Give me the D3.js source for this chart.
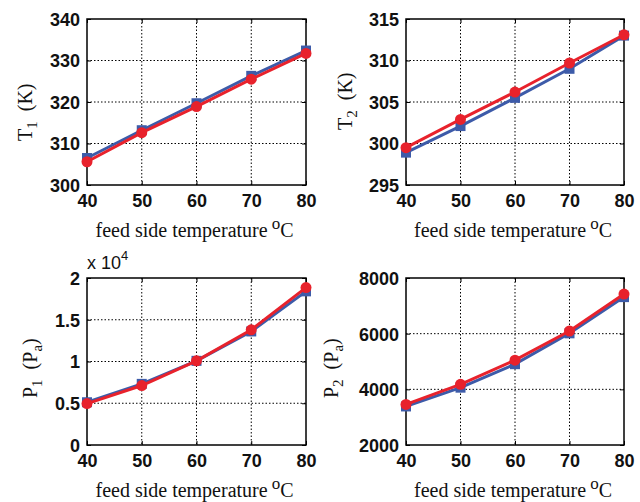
<!DOCTYPE html>
<html>
<head>
<meta charset="utf-8">
<script src="https://cdn.jsdelivr.net/npm/d3@7"></script>
<style>
  body { margin: 0; background: #fff; }
  .tick text { font-family: "Liberation Sans", Arial, sans-serif; font-size: 18px; font-weight: bold; fill: #111; }
  .lab { font-family: "Liberation Serif", "Times New Roman", serif; font-size: 20px; fill: #111; }
</style>
</head>
<body>
<script>
// Width and height
const w = 640;
const h = 502;

// Feed side temperature (x values)
const temps = [40, 50, 60, 70, 80];

// Series (blue = squares, red = circles)
const t1Blue = [306.5, 313.2, 319.7, 326.3, 332.4];
const t1Red = [305.6, 312.6, 318.9, 325.5, 331.7];
const t2Blue = [298.9, 302.1, 305.5, 309.0, 313.0];
const t2Red = [299.5, 302.9, 306.2, 309.7, 313.1];
const p1Blue = [5120, 7320, 10080, 13600, 18400];
const p1Red = [4960, 7120, 10080, 13800, 18850];
const p2Blue = [3385, 4060, 4904, 6012, 7313];
const p2Red = [3458, 4181, 5048, 6096, 7422];

// Tick values
const xTicks = [40, 50, 60, 70, 80];
const t1Ticks = [300, 310, 320, 330, 340];
const t2Ticks = [295, 300, 305, 310, 315];
const p1Ticks = [0, 5000, 10000, 15000, 20000];
const p2Ticks = [2000, 4000, 6000, 8000];

const blue = '#3d5ba9';
const red = '#e8222c';

const svg = d3
  .select('body')
  .append('svg')
  .attr('width', w)
  .attr('height', h);

// labX = baseline of the rotated y label, labY = where it starts (bottom)
const panels = [
  { x0: 87, x1: 306, y0: 19, y1: 185, dom: [300, 340], ticks: t1Ticks, fmt: d => d,
    blue: t1Blue, red: t1Red, sym: 'T', sub: '1', unit: 'K', labX: 32, labY: 141 },
  { x0: 406, x1: 624, y0: 19, y1: 185, dom: [295, 315], ticks: t2Ticks, fmt: d => d,
    blue: t2Blue, red: t2Red, sym: 'T', sub: '2', unit: 'K', labX: 352, labY: 130 },
  { x0: 87, x1: 306, y0: 278, y1: 445, dom: [0, 20000], ticks: p1Ticks, fmt: d => d / 1e4,
    blue: p1Blue, red: p1Red, sym: 'P', sub: '1', unit: 'P', unitSub: 'a', labX: 37, labY: 398, exp: true },
  { x0: 406, x1: 624, y0: 278, y1: 445, dom: [2000, 8000], ticks: p2Ticks, fmt: d => d,
    blue: p2Blue, red: p2Red, sym: 'P', sub: '2', unit: 'P', unitSub: 'a', labX: 338, labY: 398 }
];

panels.forEach(p => {
  const x = d3.scaleLinear().domain([40, 80]).range([p.x0, p.x1]);
  const y = d3.scaleLinear().domain(p.dom).range([p.y1, p.y0]);
  const g = svg.append('g');

  // Dotted grid
  g.append('g')
    .selectAll('line')
    .data(xTicks.slice(1, -1))
    .enter()
    .append('line')
    .attr('x1', d => x(d)).attr('x2', d => x(d))
    .attr('y1', p.y0).attr('y2', p.y1)
    .attr('stroke', '#000').attr('stroke-width', 1).attr('stroke-dasharray', '1.5,2');
  g.append('g')
    .selectAll('line')
    .data(p.ticks.slice(1, -1))
    .enter()
    .append('line')
    .attr('x1', p.x0).attr('x2', p.x1)
    .attr('y1', d => y(d)).attr('y2', d => y(d))
    .attr('stroke', '#000').attr('stroke-width', 1).attr('stroke-dasharray', '1.5,2');

  // Axes
  const xa = g.append('g')
    .attr('transform', `translate(0,${p.y1})`)
    .call(d3.axisBottom(x).tickValues(xTicks).tickSize(-4).tickPadding(9));
  const ya = g.append('g')
    .attr('transform', `translate(${p.x0},0)`)
    .call(d3.axisLeft(y).tickValues(p.ticks).tickFormat(p.fmt).tickSize(-4).tickPadding(7));
  [xa, ya].forEach(a => {
    a.select('.domain').remove();
    a.selectAll('line').attr('stroke', '#000');
  });
  ya.selectAll('text').attr('dy', '0.36em');

  // Right/top ticks
  g.append('g')
    .attr('transform', `translate(${p.x1},0)`)
    .call(d3.axisRight(y).tickValues(p.ticks).tickSize(-4).tickFormat(''))
    .call(a => a.select('.domain').remove());
  g.append('g')
    .attr('transform', `translate(0,${p.y0})`)
    .call(d3.axisTop(x).tickValues(xTicks).tickSize(-4).tickFormat(''))
    .call(a => a.select('.domain').remove());

  // Box
  g.append('rect')
    .attr('x', p.x0).attr('y', p.y0)
    .attr('width', p.x1 - p.x0).attr('height', p.y1 - p.y0)
    .attr('fill', 'none').attr('stroke', '#000').attr('stroke-width', 1.5);

  const line = d3.line().x((d, i) => x(temps[i])).y(d => y(d));

  // Blue series with squares
  g.append('path').datum(p.blue)
    .attr('d', line).attr('fill', 'none').attr('stroke', blue).attr('stroke-width', 3);
  g.selectAll('rect.sq').data(p.blue).enter().append('rect')
    .attr('class', 'sq')
    .attr('x', (d, i) => x(temps[i]) - 5).attr('y', d => y(d) - 5)
    .attr('width', 10).attr('height', 10).attr('fill', blue);

  // Red series with circles
  g.append('path').datum(p.red)
    .attr('d', line).attr('fill', 'none').attr('stroke', red).attr('stroke-width', 3);
  g.selectAll('circle').data(p.red).enter().append('circle')
    .attr('cx', (d, i) => x(temps[i])).attr('cy', d => y(d))
    .attr('r', 5.5).attr('fill', red);

  // X label
  const xl = g.append('text').attr('class', 'lab')
    .attr('x', (p.x0 + p.x1) / 2 - 2).attr('y', p.y1 + 52)
    .attr('text-anchor', 'middle');
  xl.append('tspan').text('feed side temperature\u2009');
  xl.append('tspan').attr('dy', -8).attr('font-size', 17).text('o');
  xl.append('tspan').attr('dy', 8).text('C');

  // Y label
  const yl = g.append('text').attr('class', 'lab')
    .attr('transform', `translate(${p.labX},${p.labY}) rotate(-90)`)
    .attr('text-anchor', 'start');
  yl.append('tspan').text(p.sym);
  yl.append('tspan').attr('dy', 5).attr('font-size', 15).text(p.sub);
  yl.append('tspan').attr('dy', -5).text('\u2002(' + p.unit);
  if (p.unitSub) {
    yl.append('tspan').attr('dy', 5).attr('font-size', 15).text(p.unitSub);
    yl.append('tspan').attr('dy', -5).text(')');
  } else {
    yl.append('tspan').text(')');
  }

  // Exponent label
  if (p.exp) {
    const ex = g.append('text')
      .attr('x', p.x0).attr('y', p.y0 - 9)
      .style('font-family', '"Liberation Sans", Arial, sans-serif')
      .style('font-size', '18px').style('fill', '#111');
    ex.append('tspan').text('x 10');
    ex.append('tspan').attr('dy', -9).attr('font-size', 13).text('4');
  }
});
</script>
</body>
</html>
